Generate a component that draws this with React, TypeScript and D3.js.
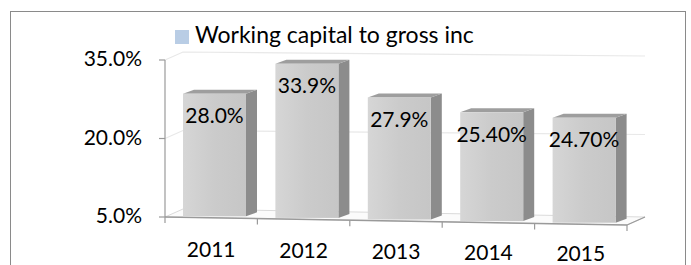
import React, { useEffect, useRef } from "react";
import * as d3 from "d3";

const years = ["2011", "2012", "2013", "2014", "2015"];
const values = [28.0, 33.9, 27.9, 25.4, 24.7];
const valueLabels = ["28.0%", "33.9%", "27.9%", "25.40%", "24.70%"];
const yTicks = [5, 20, 35];
const seriesName = "Working capital to gross inc";

const App = () => {
  const ref = useRef<SVGSVGElement>(null);

  useEffect(() => {
    const width = 691;
    const height = 265;
    const font = "Lato, 'Open Sans', sans-serif";
    const left = 165;
    const right = 627;
    const depth = { dx: 18, dy: -8 };
    const barDepth = { dx: 11, dy: -4 };

    const svg = d3.select(ref.current);
    svg.selectAll("*").remove();
    svg.attr("width", width).attr("height", height);

    // axis scale (back plane) and bar scale (front plane)
    const y = d3.scaleLinear().domain([5, 35]).range([217, 60]);
    const yBar = d3.scaleLinear().domain([5, 35]).range([216, 56]);
    const x = d3.scaleBand().domain(years).range([left, right]).padding(0);
    // slight perspective: the floor drops to the right
    const skew = d3.scaleLinear().domain([left, right]).range([0, 8]);

    // outer frame
    svg
      .append("rect")
      .attr("x", 10.5)
      .attr("y", 11.5)
      .attr("width", 675)
      .attr("height", 270)
      .attr("fill", "#fff")
      .attr("stroke", "#8a8a8a");

    // back wall gridlines (faint)
    const grid = svg.append("g");
    yTicks.slice(1).forEach((t) => {
      grid
        .append("path")
        .attr(
          "d",
          `M${left},${y(t)} L${left + depth.dx},${y(t) + depth.dy} L${right + depth.dx},${y(t) + depth.dy + 4}`
        )
        .attr("fill", "none")
        .attr("stroke", "#e8e8e8")
        .attr("stroke-width", 1.2);
    });

    // floor
    const fy = (px: number) => y(5) + skew(px);
    svg
      .append("path")
      .attr(
        "d",
        `M${left},${fy(left)} L${right},${fy(right)} L${right + depth.dx},${fy(right) + depth.dy} L${left + depth.dx},${fy(left) + depth.dy} Z`
      )
      .attr("fill", "#fbfbfb")
      .attr("stroke", "#dadada");
    svg
      .append("line")
      .attr("x1", left)
      .attr("y1", fy(left))
      .attr("x2", right)
      .attr("y2", fy(right))
      .attr("stroke", "#9a9a9a")
      .attr("stroke-width", 1.5);
    svg
      .append("line")
      .attr("x1", right)
      .attr("y1", fy(right))
      .attr("x2", right + depth.dx)
      .attr("y2", fy(right) + depth.dy)
      .attr("stroke", "#9a9a9a")
      .attr("stroke-width", 1.2);

    // x ticks
    const xt = [...years.map((d) => x(d) as number), right];
    xt.forEach((px) => {
      svg
        .append("line")
        .attr("x1", px)
        .attr("y1", fy(px))
        .attr("x2", px)
        .attr("y2", fy(px) + 6)
        .attr("stroke", "#9a9a9a")
        .attr("stroke-width", 1.2);
    });

    // y axis
    svg
      .append("line")
      .attr("x1", left)
      .attr("y1", y(35))
      .attr("x2", left)
      .attr("y2", y(5))
      .attr("stroke", "#9a9a9a")
      .attr("stroke-width", 1.2);
    yTicks.forEach((t) => {
      svg
        .append("line")
        .attr("x1", left - 6)
        .attr("x2", left)
        .attr("y1", y(t))
        .attr("y2", y(t))
        .attr("stroke", "#9a9a9a")
        .attr("stroke-width", 1.2);
      svg
        .append("text")
        .attr("x", 142)
        .attr("y", y(t) + 1)
        .attr("text-anchor", "end")
        .attr("dominant-baseline", "middle")
        .attr("font-family", font)
        .attr("font-size", 21)
        .attr("fill", "#000")
        .text(d3.format(".1f")(t) + "%");
    });

    // gradient for bar fronts
    const defs = svg.append("defs");
    const grad = defs
      .append("linearGradient")
      .attr("id", "front")
      .attr("x1", "0")
      .attr("x2", "1")
      .attr("y1", "0")
      .attr("y2", "0");
    grad.append("stop").attr("offset", "0").attr("stop-color", "#d6d6d6");
    grad.append("stop").attr("offset", "0.5").attr("stop-color", "#cbcbcb");
    grad.append("stop").attr("offset", "1").attr("stop-color", "#c6c6c6");

    // bars
    const bw = 63;
    years.forEach((yr, i) => {
      const x0 = (x(yr) as number) + 18;
      const x1 = x0 + bw;
      const s = skew(x0);
      const top = yBar(values[i]) + s;
      const bottom = yBar(5) + s;
      const g = svg.append("g");
      g.append("path")
        .attr(
          "d",
          `M${x1},${top} L${x1 + barDepth.dx},${top + barDepth.dy} L${x1 + barDepth.dx},${bottom + barDepth.dy} L${x1},${bottom} Z`
        )
        .attr("fill", "#8c8c8c");
      g.append("path")
        .attr(
          "d",
          `M${x0},${top} L${x0 + barDepth.dx},${top + barDepth.dy} L${x1 + barDepth.dx},${top + barDepth.dy} L${x1},${top} Z`
        )
        .attr("fill", "#9e9e9e");
      g.append("rect")
        .attr("x", x0)
        .attr("y", top)
        .attr("width", bw)
        .attr("height", bottom - top)
        .attr("fill", "url(#front)");
      g.append("text")
        .attr("x", x0 + bw / 2)
        .attr("y", top + 24)
        .attr("text-anchor", "middle")
        .attr("dominant-baseline", "middle")
        .attr("font-family", font)
        .attr("font-size", 21)
        .attr("fill", "#000")
        .text(valueLabels[i]);
    });

    // category labels
    years.forEach((yr) => {
      const cx = (x(yr) as number) + x.bandwidth() / 2;
      svg
        .append("text")
        .attr("x", cx)
        .attr("y", 257 + skew(cx) * 0.6)
        .attr("text-anchor", "middle")
        .attr("font-family", font)
        .attr("font-size", 21)
        .attr("fill", "#000")
        .text(yr);
    });

    // legend
    svg
      .append("rect")
      .attr("x", 175)
      .attr("y", 30)
      .attr("width", 14)
      .attr("height", 14)
      .attr("fill", "#b9cde5");
    svg
      .append("text")
      .attr("x", 195)
      .attr("y", 43)
      .attr("font-family", font)
      .attr("font-size", 23)
      .attr("fill", "#000")
      .text(seriesName);
  }, []);

  return (
    <div style={{ position: "absolute", left: 0, top: 0 }}>
      <svg ref={ref} style={{ display: "block" }}></svg>
    </div>
  );
};

export default App;
